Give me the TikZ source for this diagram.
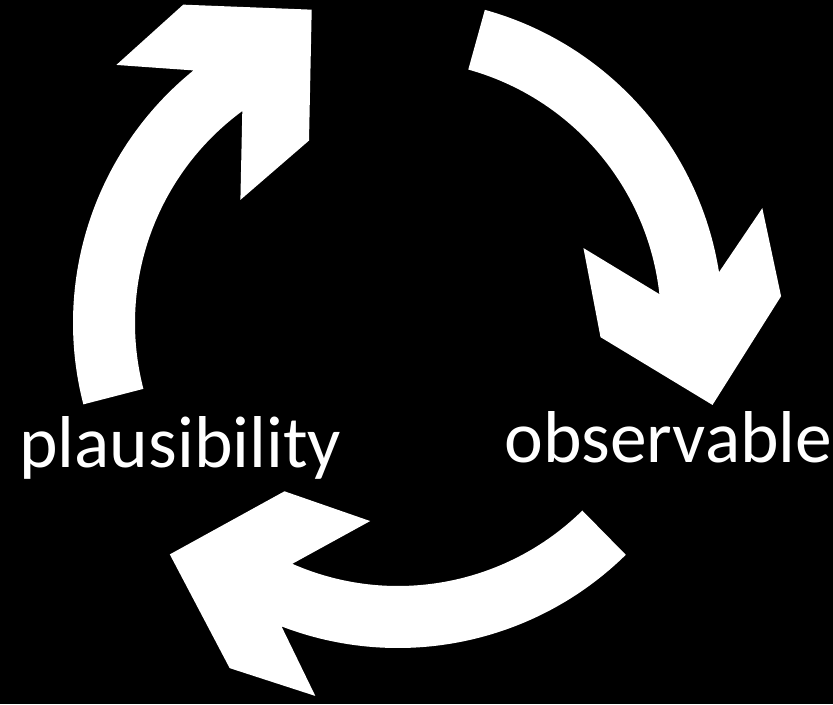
\documentclass[tikz,border=0pt]{standalone}
\usepackage{fontspec}
\setmainfont{Carlito}
\usepackage{tikz}
\usetikzlibrary{positioning}

\begin{document}
\begin{tikzpicture}[
  font=\fontsize{41.8}{50}\selectfont,
  cyclearrow/.style={fill=white, draw=none},
  cyclelabel/.style={text=white, inner sep=0pt, anchor=base west}
]

\fill[black] (0,0) rectangle (16.66,14.08);
\useasboundingbox (0,0) rectangle (16.66,14.08);

\coordinate (cen) at (7.96,7.62);

% three copies of one bent arrow, turned by 120 degrees
\foreach \rot in {0,-120,-240} {
  \fill[cyclearrow, shift={(cen)}, rotate=\rot]
    (194.5:6.5) arc[start angle=194.5, end angle=129, radius=6.5]
    -- (137.5:7.64) -- (124:7.68) -- (105.4:6.5) -- (116:4.06) -- (142:4.0)
    -- (126.3:5.26) arc[start angle=126.3, end angle=194.5, radius=5.26]
    -- cycle;
}

\node[cyclelabel] (plaus) at (0.38,4.74) {plausibility};
\node[cyclelabel] (obs) at (10.08,4.84) {observable};

\end{tikzpicture}
\end{document}
